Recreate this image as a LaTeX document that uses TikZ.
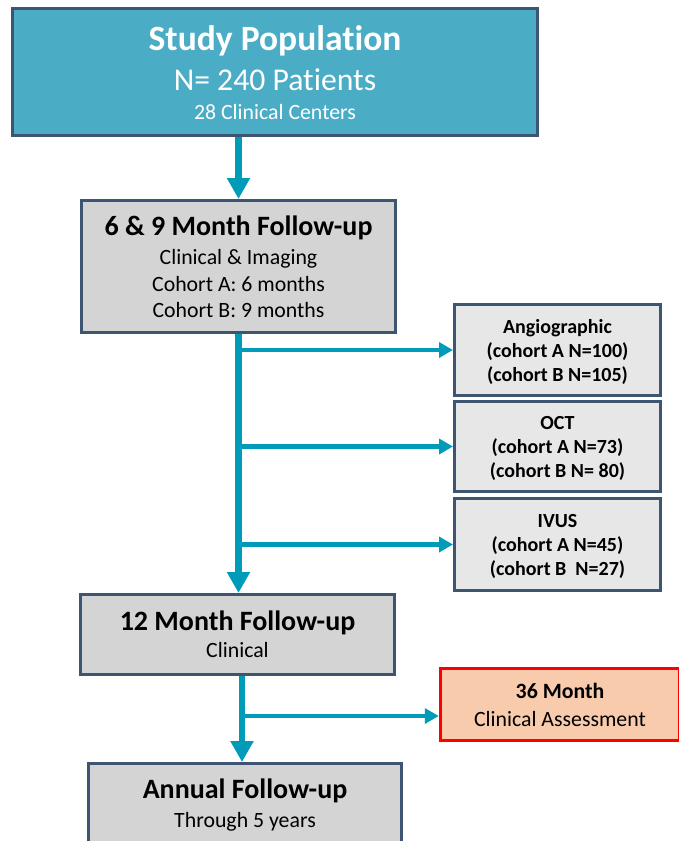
\documentclass[tikz,border=0pt]{standalone}
\usepackage{fontspec}
\setmainfont{Carlito}[Ligatures=NoCommon,Contextuals=NoAlternate]
\usetikzlibrary{arrows.meta}
\definecolor{bordercol}{HTML}{3D5573}
\definecolor{studyfill}{HTML}{4BACC6}
\definecolor{grayfill}{HTML}{D4D4D4}
\definecolor{lightfill}{HTML}{E7E7E7}
\definecolor{peach}{HTML}{F8CBAD}
\definecolor{teal}{HTML}{009BB8}
\definecolor{redline}{HTML}{FF0000}
\tikzset{
  box/.style={draw=bordercol, line width=3pt, fill=grayfill, inner sep=0pt},
  txt/.style={anchor=base, inner sep=0pt, text=black},
  fbig/.style={font=\bfseries\fontsize{28}{34}\selectfont},
  fmid/.style={font=\fontsize{21.8}{26}\selectfont},
  fmidb/.style={font=\bfseries\fontsize{21.8}{26}\selectfont},
  fsmb/.style={font=\bfseries\fontsize{20}{24}\selectfont},
  mainarrow/.style={draw=teal, line width=6.5pt, -{Triangle[width=22pt,length=21pt]}},
  brancharrow/.style={draw=teal, line width=4.5pt, -{Triangle[width=15pt,length=14pt]}},
}
\begin{document}
\begin{tikzpicture}[x=1pt,y=-1pt]
\useasboundingbox (0,0) rectangle (679,841);
\clip (0,0) rectangle (679,841);
% boxes
\node[box, fill=studyfill, minimum width=525pt, minimum height=127pt] (study) at (275,72) {};
\node[box, minimum width=314pt, minimum height=132pt] (nine) at (238.5,266.5) {};
\node[box, fill=lightfill, minimum width=206pt, minimum height=91pt] (angio) at (557.5,350) {};
\node[box, fill=lightfill, minimum width=206pt, minimum height=90pt] (oct) at (557.5,446.5) {};
\node[box, fill=lightfill, minimum width=206pt, minimum height=92pt] (ivus) at (557.5,544.5) {};
\node[box, minimum width=314pt, minimum height=80pt] (twelve) at (237.5,634.5) {};
\node[box, minimum width=313pt, minimum height=83pt] (annual) at (245,805) {};
\node[box, draw=redline, line width=3.5pt, fill=peach, minimum width=239pt, minimum height=72pt] (m36) at (560,704.5) {};
% texts
\node[txt, text=white, font=\bfseries\fontsize{35.5}{42}\selectfont] (s1) at (275,50) {Study Population};
\node[txt, text=white, font=\fontsize{31.7}{38}\selectfont] (s2) at (275,90) {N= 240 Patients};
\node[txt, text=white, fmid] (s3) at (275,119) {28 Clinical Centers};
\node[txt, fbig] (n1) at (238.5,235) {6 \& 9 Month Follow-up};
\node[txt, fmid] (n2) at (238.5,264) {Clinical \& Imaging};
\node[txt, fmid] (n3) at (238.5,291) {Cohort A: 6 months};
\node[txt, fmid] (n4) at (238.5,317) {Cohort B: 9 months};
\node[txt, fsmb] (a1) at (557.5,333) {Angiographic};
\node[txt, fsmb] (a2) at (557.5,357) {(cohort A N=100)};
\node[txt, fsmb] (a3) at (557.5,381) {(cohort B N=105)};
\node[txt, fsmb] (o1) at (557.5,429) {OCT};
\node[txt, fsmb] (o2) at (557.5,453) {(cohort A N=73)};
\node[txt, fsmb] (o3) at (557.5,477) {(cohort B N= 80)};
\node[txt, fsmb] (i1) at (557.5,527) {IVUS};
\node[txt, fsmb] (i2) at (557.5,551) {(cohort A N=45)};
\node[txt, fsmb] (i3) at (557.5,575) {(cohort B \ N=27)};
\node[txt, fbig] (t1) at (237.5,630) {12 Month Follow-up};
\node[txt, fmid] (t2) at (237.5,657) {Clinical};
\node[txt, fmidb] (m1) at (560,698) {36 Month};
\node[txt, fmid] (m2) at (560,726) {Clinical Assessment};
\node[txt, fbig] (u1) at (245,798) {Annual Follow-up};
\node[txt, fmid] (u2) at (245,827) {Through 5 years};
% connectors
\draw[mainarrow] (nine.north |- study.south) -- (nine.north);
\draw[mainarrow] (nine.south) -- (nine.south |- twelve.north);
\draw[brancharrow] (nine.south |- angio.west) -- (angio.west);
\draw[brancharrow] (nine.south |- oct.west) -- (oct.west);
\draw[brancharrow] (nine.south |- ivus.west) -- (ivus.west);
\coordinate (j) at (242,716);
\draw[mainarrow] (j |- twelve.south) -- (j |- annual.north);
\draw[brancharrow] (j) -- (j -| m36.west);
\end{tikzpicture}
\end{document}
